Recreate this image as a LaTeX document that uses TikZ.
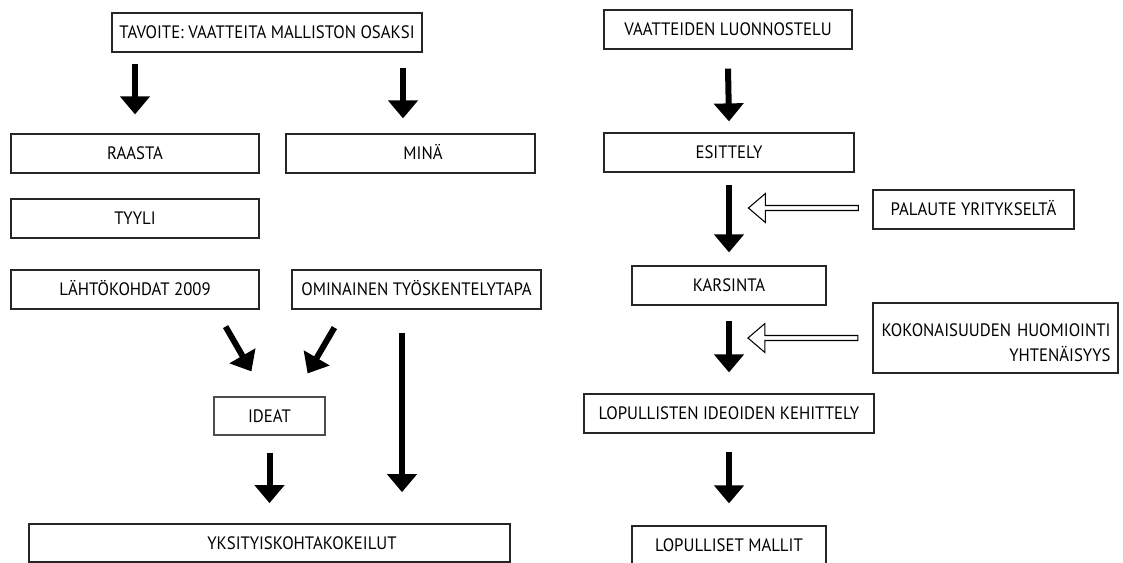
\documentclass[tikz,border=0pt]{standalone}
\usepackage{fontspec}
\setmainfont[FakeStretch=0.93]{PT Sans}
\usetikzlibrary{arrows.meta,calc}
\begin{document}
\begin{tikzpicture}[x=0.75pt,y=-0.75pt,
  box/.style={draw=black!85, line width=0.9pt, inner sep=0pt, minimum height=29.25pt,
    font=\fontsize{13.5}{15}\selectfont},
  oneline/.style={text height=9.4pt, text depth=0pt},
  arr/.style={line width=4.5pt, -{Triangle[width=21.75pt,length=13.5pt]}},
  hollow/.style={draw=black, line width=0.8pt, fill=white, line join=miter}]
\useasboundingbox (0,0) rectangle (1123,563);

% left column
\node[box,oneline,minimum width=232.5pt] (goal) at (267,32.5) {TAVOITE: VAATTEITA MALLISTON OSAKSI};
\node[box,oneline,minimum width=186pt] (raasta) at (135,153.5) {RAASTA};
\node[box,oneline,minimum width=186.75pt] (mina) at (410.5,153.5) {\hspace*{18.75pt}MINÄ};
\node[box,oneline,minimum width=186pt] (tyyli) at (135,218.5) {TYYLI};
\node[box,oneline,minimum width=186pt] (lahto) at (135,289.5) {LÄHTÖKOHDAT 2009};
\node[box,oneline,minimum width=186.75pt] (omin) at (416.5,289.5) {OMINAINEN TYÖSKENTELYTAPA};
\node[box,oneline,draw=black!70,minimum width=83.25pt,minimum height=28.5pt] (ideat) at (269.5,416) {IDEAT};
\node[box,oneline,line width=1.3pt,minimum width=360.75pt,minimum height=28.5pt] (yksi) at (269.5,543) {\hspace*{48.75pt}YKSITYISKOHTAKOKEILUT};

% right column
\node[box,oneline,minimum width=186pt] (luonn) at (728,29.5) {VAATTEIDEN LUONNOSTELU};
\node[box,oneline,minimum width=187.5pt] (esit) at (729,152.5) {ESITTELY};
\node[box,oneline,minimum width=150.75pt] (pala) at (973.5,209.5) {PALAUTE YRITYKSELTÄ};
\node[box,oneline,minimum width=145.5pt] (kars) at (729,285.5) {KARSINTA};
\node[box,line width=1.6pt,minimum width=183.75pt,minimum height=52.5pt,
  text width=172.5pt,align=right,font=\fontsize{13.5}{18.75}\selectfont] (koko) at (995.5,338)
  {\rule{0pt}{16.9pt}KOKONAISUUDEN HUOMIOINTI\\YHTENÄISYYS};
\node[box,oneline,minimum width=217.5pt] (lopk) at (729,413.5) {LOPULLISTEN IDEOIDEN KEHITTELY};
\node[box,oneline,minimum width=145.5pt] (malli) at (729,545.5) {LOPULLISET MALLIT};

% solid arrows
\draw[arr] ($(raasta.north |- goal.south)+(0,11)$) -- ($(raasta.north)+(0,-19)$);
\draw[arr] ($(goal.south -| mina.north)+(-7.5,15)$) -- ($(mina.north)+(-7.5,-15)$);
\draw[arr] ($(lahto.south east)+(-34,17)$) -- ($(ideat.north west)+(38,-25)$);
\draw[arr] ($(omin.south west)+(43,18)$) -- ($(ideat.north east)+(-18,-23)$);
\draw[arr] ($(omin.south)+(-14.5,23)$) -- ($(yksi.north)+(132.5,-31)$);
\draw[arr] ($(ideat.south)+(0,17)$) -- ($(yksi.north)+(0,-20)$);
\draw[arr] ($(luonn.south)+(0,19)$) -- ($(esit.north)+(0,-11)$);
\draw[arr] ($(esit.south)+(0,12)$) -- ($(kars.north)+(0,-13)$);
\draw[arr] ($(kars.south)+(0,15)$) -- ($(lopk.north)+(0,-21)$);
\draw[arr] ($(lopk.south)+(0,18)$) -- ($(malli.north)+(0,-22)$);

% hollow arrows
\begin{scope}[shift={(pala.west)}]
\draw[hollow] (-14,-4) -- (-107,-4) -- (-107,-16) -- (-124,-1.5) -- (-107,13) -- (-107,1) -- (-14,1) -- cycle;
\end{scope}
\begin{scope}[shift={(koko.west)}]
\draw[hollow] (-14,-2.5) -- (-107,-2.5) -- (-107,-14.5) -- (-124,0) -- (-107,14.5) -- (-107,2.5) -- (-14,2.5) -- cycle;
\end{scope}
\end{tikzpicture}
\end{document}
